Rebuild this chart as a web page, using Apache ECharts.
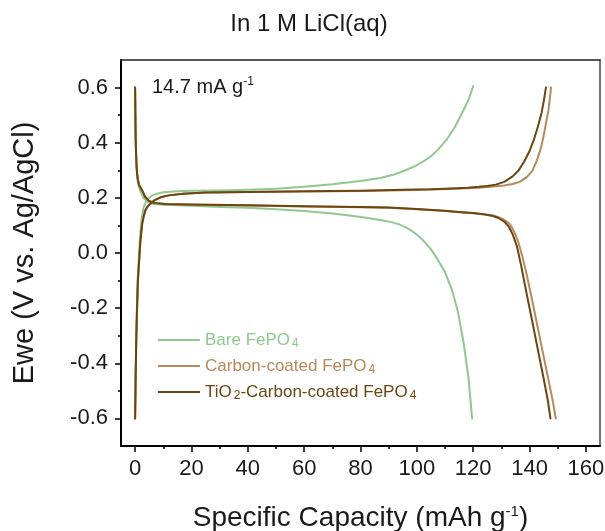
<!DOCTYPE html>
<html>
<head>
<meta charset="utf-8">
<script src="https://cdn.jsdelivr.net/npm/echarts@6/dist/echarts.min.js"></script>
<style>
html,body{margin:0;padding:0;background:#fff;}
#chart{width:605px;height:531px;}
</style>
</head>
<body>
<div id="chart"></div>
<script>
// ---------- data ----------
const capacityTicks = [0, 20, 40, 60, 80, 100, 120, 140, 160];
const capacityMinorTicks = [10, 30, 50, 70, 90, 110, 130, 150];
const potentialTicks = [-0.6, -0.4, -0.2, 0.0, 0.2, 0.4, 0.6];
const potentialMinorTicks = [-0.5, -0.3, -0.1, 0.1, 0.3, 0.5];

const seriesNames = ['Bare FePO4', 'Carbon-coated FePO4', 'TiO2-Carbon-coated FePO4'];
const seriesLabels = ['Bare FePO{sub|4}', 'Carbon-coated FePO{sub|4}', 'TiO{sub|2}-Carbon-coated FePO{sub|4}'];

// Bare FePO4
const bareChargeX = [0, 0.2, 0.4, 0.65, 0.9, 1.2, 1.45, 1.7, 2.0, 2.4, 3.0, 4.0, 5.5, 7, 10, 15, 20, 30, 40, 50, 60, 70, 80, 87, 92, 96, 99.5, 102.5, 105, 107.5, 110.5, 113.5, 116.5, 118.5, 120];
const bareChargeY = [-0.6, -0.45, -0.3, -0.2, -0.1, -0.04, 0.0, 0.05, 0.09, 0.13, 0.165, 0.19, 0.205, 0.213, 0.22, 0.224, 0.226, 0.227, 0.229, 0.233, 0.24, 0.249, 0.261, 0.272, 0.285, 0.3, 0.316, 0.333, 0.351, 0.375, 0.41, 0.457, 0.517, 0.56, 0.605];
const bareDischargeX = [0, 0.1, 0.2, 0.3, 0.5, 0.8, 1.2, 2.0, 3.0, 4.5, 6, 8, 10, 20, 30, 40, 50, 60, 70, 76, 82, 87, 91, 94, 96.5, 98.8, 101, 103, 105, 107.5, 110, 112.5, 114.5, 116.5, 118.3, 119.6];
const bareDischargeY = [0.6, 0.5, 0.42, 0.37, 0.31, 0.27, 0.245, 0.22, 0.2, 0.185, 0.179, 0.177, 0.175, 0.171, 0.167, 0.164, 0.159, 0.152, 0.143, 0.136, 0.128, 0.12, 0.112, 0.103, 0.091, 0.076, 0.058, 0.037, 0.013, -0.025, -0.07, -0.135, -0.21, -0.32, -0.45, -0.6];

// Carbon-coated FePO4
const carbonChargeX = [0, 0.2, 0.45, 0.7, 1.0, 1.3, 1.6, 1.9, 2.2, 2.5, 3.0, 3.6, 4.5, 5.5, 7, 9, 12, 17, 25, 40, 60, 80, 95, 105, 112, 118, 122, 125, 128, 131, 134, 136.5, 139, 141, 142.6, 144, 144.9, 146, 146.7, 147.2, 147.6];
const carbonChargeY = [-0.6, -0.45, -0.3, -0.2, -0.1, -0.05, 0.0, 0.045, 0.075, 0.105, 0.13, 0.154, 0.17, 0.18, 0.192, 0.202, 0.209, 0.215, 0.219, 0.221, 0.223, 0.225, 0.228, 0.23, 0.232, 0.235, 0.237, 0.239, 0.242, 0.245, 0.25, 0.258, 0.275, 0.298, 0.336, 0.38, 0.42, 0.48, 0.517, 0.56, 0.6];
const carbonDischargeX = [0, 0.1, 0.2, 0.3, 0.5, 0.7, 1.0, 1.5, 2.5, 3.5, 4.8, 6, 8, 11, 15, 20, 40, 60, 80, 90, 100, 110, 115, 120, 124, 127, 129, 131, 133, 134.5, 136, 137.5, 138.8, 140.8, 142.8, 144.8, 146.8, 148.3, 149.3];
const carbonDischargeY = [0.6, 0.5, 0.42, 0.38, 0.32, 0.29, 0.265, 0.245, 0.227, 0.205, 0.19, 0.184, 0.18, 0.177, 0.176, 0.175, 0.172, 0.169, 0.166, 0.164, 0.159, 0.152, 0.148, 0.144, 0.141, 0.136, 0.13, 0.12, 0.105, 0.078, 0.04, -0.015, -0.07, -0.165, -0.265, -0.365, -0.465, -0.54, -0.6];

// TiO2-Carbon-coated FePO4
const tioChargeX = [0, 0.2, 0.45, 0.7, 1.0, 1.3, 1.6, 1.9, 2.2, 2.5, 3.0, 3.6, 4.5, 5.5, 7, 9, 12, 17, 25, 40, 60, 80, 95, 105, 112, 118, 122, 125, 128, 131, 134, 136, 138, 140, 141.5, 143, 144.3, 145.2, 145.8];
const tioChargeY = [-0.6, -0.45, -0.3, -0.2, -0.1, -0.05, 0.0, 0.045, 0.075, 0.105, 0.13, 0.154, 0.17, 0.18, 0.192, 0.202, 0.209, 0.215, 0.219, 0.221, 0.224, 0.226, 0.229, 0.231, 0.234, 0.237, 0.24, 0.243, 0.248, 0.258, 0.278, 0.298, 0.33, 0.37, 0.41, 0.46, 0.51, 0.56, 0.6];
const tioDischargeX = [0, 0.1, 0.2, 0.3, 0.5, 0.7, 1.0, 1.5, 2.5, 3.5, 4.8, 6, 8, 11, 15, 20, 40, 60, 80, 90, 100, 110, 115, 120, 124, 127, 129, 131, 132.5, 134, 135.5, 137, 139, 141, 143, 145, 146.5, 147.4];
const tioDischargeY = [0.6, 0.5, 0.42, 0.38, 0.32, 0.29, 0.265, 0.245, 0.227, 0.205, 0.19, 0.184, 0.18, 0.178, 0.177, 0.176, 0.173, 0.17, 0.167, 0.165, 0.16, 0.153, 0.149, 0.145, 0.14, 0.134, 0.127, 0.114, 0.098, 0.068, 0.025, -0.045, -0.149, -0.25, -0.353, -0.455, -0.535, -0.6];

const colors = ['#90c890', '#b8895a', '#6b4512'];

// ---------- chart ----------
const FONT = 'Arial, "Liberation Sans", sans-serif';
function pairs(xs, ys) { return xs.map((x, i) => [x, ys[i]]); }

const curves = [
  [0, bareChargeX, bareChargeY], [0, bareDischargeX, bareDischargeY],
  [1, carbonChargeX, carbonChargeY], [1, carbonDischargeX, carbonDischargeY],
  [2, tioChargeX, tioChargeY], [2, tioDischargeX, tioDischargeY]
];

const series = curves.map(([k, xs, ys]) => ({
  type: 'line',
  name: seriesNames[k],
  data: pairs(xs, ys),
  showSymbol: false,
  symbol: 'none',
  smooth: false,
  z: 2 + k,
  lineStyle: { color: colors[k], width: 2, join: 'round', cap: 'round' },
  itemStyle: { color: colors[k] },
  animation: false
}));

const chart = echarts.init(document.getElementById('chart'), null, { renderer: 'canvas' });
const xBase = { type: 'value', min: -5, max: 165, gridIndex: 0 };
const yBase = { type: 'value', min: -0.7, max: 0.7, gridIndex: 0 };

chart.setOption({
  animation: false,
  backgroundColor: '#ffffff',
  grid: { left: 121, right: 5, top: 60, bottom: 85, containLabel: false, outerBoundsMode: 'none' },
  graphic: [
    { type: 'text', x: 309, y: 24, style: { text: 'In 1 M LiCl(aq)', font: '24px ' + FONT, fill: '#1a1a1a', align: 'center', verticalAlign: 'middle' } },
    { type: 'text', x: 152, y: 87, style: {
        text: '14.7 mA g{sup|-1}', font: '20px ' + FONT, fill: '#1a1a1a', verticalAlign: 'middle',
        rich: { sup: { fontSize: 12, fontFamily: FONT, verticalAlign: 'top', lineHeight: 22, fill: '#1a1a1a' } }
      } }
  ],
  legend: {
    orient: 'vertical',
    left: 158, top: 330,
    padding: 0,
    itemWidth: 42, itemHeight: 2, itemGap: 6,
    icon: 'rect',
    selectedMode: false,
    data: seriesNames.map((n, i) => ({ name: n, textStyle: { color: colors[i] } })),
    formatter: function (name) { return seriesLabels[seriesNames.indexOf(name)]; },
    textStyle: {
      fontSize: 17, fontFamily: FONT, lineHeight: 20, padding: [0, 0, 0, 0],
      rich: { sub: { fontSize: 12, fontFamily: FONT, lineHeight: 20, verticalAlign: 'bottom', padding: [0, 0, 0, 2] } }
    }
  },
  xAxis: [
    Object.assign({}, xBase, {
      position: 'bottom',
      name: 'Specific Capacity (mAh g{sup|-1})',
      nameLocation: 'middle', nameGap: 58,
      nameTextStyle: { fontSize: 28, fontFamily: FONT, color: '#1a1a1a',
        rich: { sup: { fontSize: 15, fontFamily: FONT, verticalAlign: 'top', lineHeight: 28, color: '#1a1a1a' } } },
      axisLine: { show: true, onZero: false, lineStyle: { color: '#000', width: 2 } },
      axisTick: { show: true, inside: false, length: 6, customValues: capacityTicks, lineStyle: { color: '#000', width: 1.5 } },
      axisLabel: { show: true, customValues: capacityTicks, fontSize: 22, fontFamily: FONT, color: '#1a1a1a', margin: 12 },
      splitLine: { show: false }
    }),
    Object.assign({}, xBase, {
      position: 'bottom',
      axisLine: { show: false, onZero: false },
      axisTick: { show: true, inside: false, length: 3, customValues: capacityMinorTicks, lineStyle: { color: '#000', width: 1.5 } },
      axisLabel: { show: false },
      splitLine: { show: false }
    }),
    Object.assign({}, xBase, {
      position: 'top',
      axisLine: { show: true, onZero: false, lineStyle: { color: '#222', width: 1.5 } },
      axisTick: { show: false }, axisLabel: { show: false }, splitLine: { show: false }
    })
  ],
  yAxis: [
    Object.assign({}, yBase, {
      position: 'left',
      name: 'Ewe (V vs. Ag/AgCl)',
      nameLocation: 'middle', nameGap: 82, nameRotate: 90,
      nameTextStyle: { fontSize: 29, fontFamily: FONT, color: '#1a1a1a' },
      axisLine: { show: true, onZero: false, lineStyle: { color: '#000', width: 2 } },
      axisTick: { show: true, inside: false, length: 6, customValues: potentialTicks, lineStyle: { color: '#000', width: 1.5 } },
      axisLabel: { show: true, customValues: potentialTicks, fontSize: 22, fontFamily: FONT, color: '#1a1a1a', margin: 13,
        formatter: function (v) { return v.toFixed(1); } },
      splitLine: { show: false }
    }),
    Object.assign({}, yBase, {
      position: 'left',
      axisLine: { show: false, onZero: false },
      axisTick: { show: true, inside: false, length: 3, customValues: potentialMinorTicks, lineStyle: { color: '#000', width: 1.5 } },
      axisLabel: { show: false },
      splitLine: { show: false }
    }),
    Object.assign({}, yBase, {
      position: 'right',
      axisLine: { show: true, onZero: false, lineStyle: { color: '#444', width: 1.5 } },
      axisTick: { show: false }, axisLabel: { show: false }, splitLine: { show: false }
    })
  ],
  series: series
});
</script>
</body>
</html>
